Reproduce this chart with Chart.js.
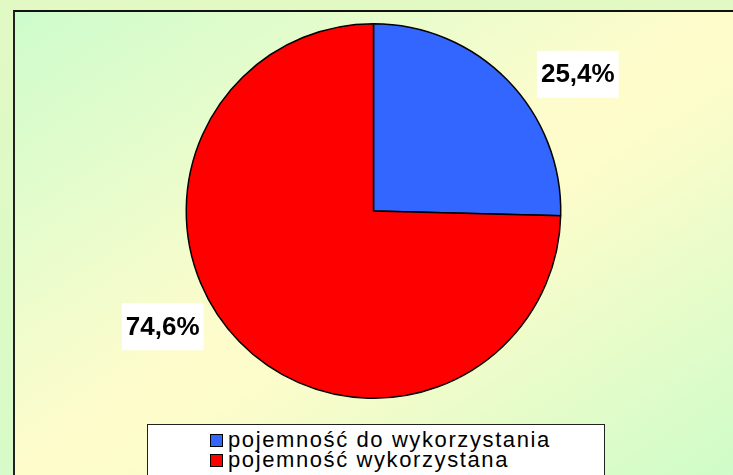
<!DOCTYPE html>
<html>
<head>
<meta charset="utf-8">
<script src="https://cdn.jsdelivr.net/npm/chart.js@4"></script>
<style>
  html, body { margin: 0; padding: 0; }
  body {
    width: 733px; height: 475px; overflow: hidden; position: relative;
    background: linear-gradient(to bottom, #e2f9c4 0%, #dcfac6 60%, #d6fbc8 100%);
    font-family: "Liberation Sans", Arial, sans-serif;
  }
  #plotBox {
    position: absolute; left: 13px; top: 10px; width: 740px; height: 480px;
    border-left: 2px solid #222; border-top: 2px solid #111;
    background: linear-gradient(to bottom right, #cefccc 0%, #fffccc 48%, #fdfccb 55%, #cbfcc8 100%);
  }
  #chartWrap { position: absolute; left: 0; top: 0; width: 733px; height: 475px; }
  #legend {
    position: absolute; left: 147px; top: 424px; width: 458px; height: 60px;
    background: #fff; border: 1px solid #222; box-sizing: border-box;
    padding: 5px 0 0 62px;
  }
  .legend-item { display: flex; align-items: center; height: 20px; font-size: 22px; letter-spacing: 1.6px; color: #000; }
  .legend-dot { width: 11px; height: 11px; border: 1px solid #000; margin-right: 5px; flex: none; }
</style>
</head>
<body>
<div id="plotBox"></div>
<div id="chartWrap"><canvas id="pieChart" width="733" height="475"></canvas></div>
<div id="legend"></div>
<script>
// ── data ────────────────────────────────────────────────────────────────
const categories = ['pojemność do wykorzystania', 'pojemność wykorzystana'];
const shares = [25.4, 74.6];
const shareLabels = ['25,4%', '74,6%'];
const sliceColors = ['#3366ff', '#ff0000'];

// label placement, in units of the pie radius, relative to its centre
const labelOffsets = [[1.091, -0.730], [-1.126, 0.618]];

const labelPlugin = {
  id: 'sliceLabels',
  afterDatasetsDraw(chart) {
    const c = chart.ctx;
    const arcs = chart.getDatasetMeta(0).data;
    c.save();
    c.font = 'bold 26px "Liberation Sans", Arial, sans-serif';
    c.textAlign = 'center';
    c.textBaseline = 'middle';
    arcs.forEach((arc, i) => {
      const r = arc.outerRadius;
      const x = arc.x + labelOffsets[i][0] * r;
      const y = arc.y + labelOffsets[i][1] * r;
      const w = c.measureText(shareLabels[i]).width + 8;
      c.fillStyle = '#fff';
      c.fillRect(x - w / 2, y - 23.5, w, 47);
      c.fillStyle = '#000';
      c.fillText(shareLabels[i], x, y + 1);
    });
    c.restore();
  }
};

new Chart(document.getElementById('pieChart'), {
  type: 'pie',
  data: {
    labels: categories,
    datasets: [{
      data: shares,
      backgroundColor: sliceColors,
      borderColor: '#000',
      borderWidth: 1.5,
    }],
  },
  options: {
    responsive: false,
    animation: false,
    layout: { padding: { top: 23, bottom: 76, left: 150, right: 136 } },
    plugins: { legend: { display: false }, tooltip: { enabled: false } },
  },
  plugins: [labelPlugin],
});

// custom legend
document.getElementById('legend').innerHTML = categories.map((label, i) => `
  <div class="legend-item">
    <div class="legend-dot" style="background:${sliceColors[i]};"></div>
    <span>${label}</span>
  </div>`).join('');
</script>
</body>
</html>
